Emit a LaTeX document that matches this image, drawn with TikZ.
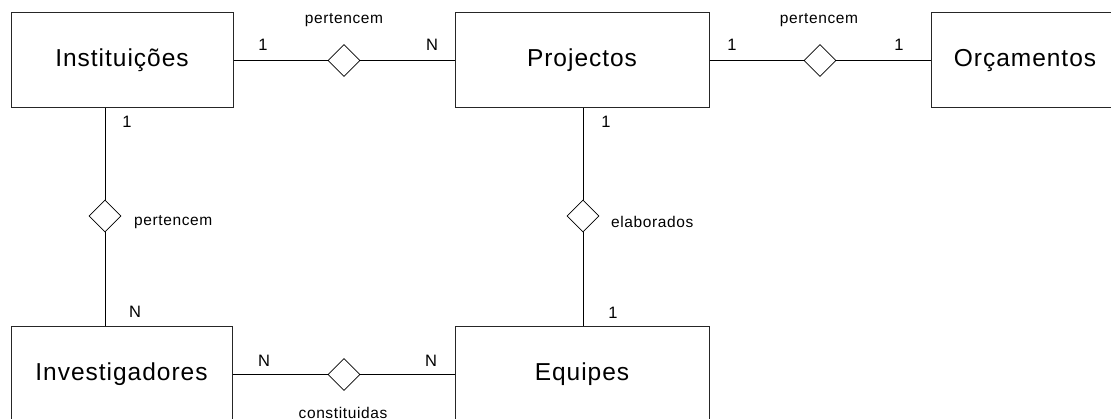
\documentclass[tikz,border=0pt]{standalone}
\usepackage{fontspec}
\setmainfont{Liberation Sans}
\newfontfamily\widesans[LetterSpace=4]{Liberation Sans}
\usetikzlibrary{shapes.geometric}
\begin{document}
\begin{tikzpicture}[x=1pt,y=-1pt,
  entity/.style={draw=black!85, line width=1pt, fill=white, inner sep=0pt,
    minimum height=95pt, font=\widesans\fontsize{24.5}{28}\selectfont},
  rel/.style={draw, diamond, line width=0.8pt, fill=white, inner sep=0pt,
    minimum width=32pt, minimum height=32pt},
  card/.style={inner sep=0pt, font=\fontsize{16.5}{18}\selectfont},
  rlabel/.style={inner sep=0pt, font=\widesans\fontsize{15.5}{17}\selectfont},
  link/.style={line width=0.8pt}]
\useasboundingbox (0,0) rectangle (1111,419);

% entities
\node[entity, minimum width=222pt] (inst) at (122,60.5) {Instituições};
\node[entity, minimum width=254pt] (proj) at (582,60.5) {Projectos};
\node[entity, minimum width=188pt] (orc)  at (1025,60.5) {Orçamentos};
\node[entity, minimum width=221pt] (inv)  at (121.5,374.5) {Investigadores};
\node[entity, minimum width=254pt] (equ)  at (582,374.5) {Equipes};

% relationships
\node[rel] (r1) at (344,60.5) {};
\node[rel] (r2) at (820,60.5) {};
\node[rel] (r3) at (105,216) {};
\node[rel] (r4) at (583,216) {};
\node[rel] (r5) at (344,374.5) {};

% connectors
\draw[link] (inst) -- (r1) -- (proj);
\draw[link] (proj) -- (r2) -- (orc);
\draw[link] (r3 |- inst.south) -- (r3) -- (r3 |- inv.north);
\draw[link] (r4 |- proj.south) -- (r4) -- (r4 |- equ.north);
\draw[link] (inv) -- (r5) -- (equ);

% relationship names
\node[rlabel] (l1) at (344,20) {pertencem};
\node[rlabel] (l2) at (819,20) {pertencem};
\node[rlabel, anchor=west] (l3) at (134,222) {pertencem};
\node[rlabel, anchor=west] (l4) at (611,222) {elaborados};
\node[rlabel] (l5) at (343,413) {constituidas};

% cardinalities
\node[card] (c1)  at (263,45)  {1};
\node[card] (c2)  at (432,45)  {N};
\node[card] (c3)  at (732,45)  {1};
\node[card] (c4)  at (899,45)  {1};
\node[card] (c5)  at (127,122) {1};
\node[card] (c6)  at (606,122) {1};
\node[card] (c7)  at (135,312) {N};
\node[card] (c8)  at (613,313) {1};
\node[card] (c9)  at (264,361) {N};
\node[card] (c10) at (431,361) {N};
\end{tikzpicture}
\end{document}
